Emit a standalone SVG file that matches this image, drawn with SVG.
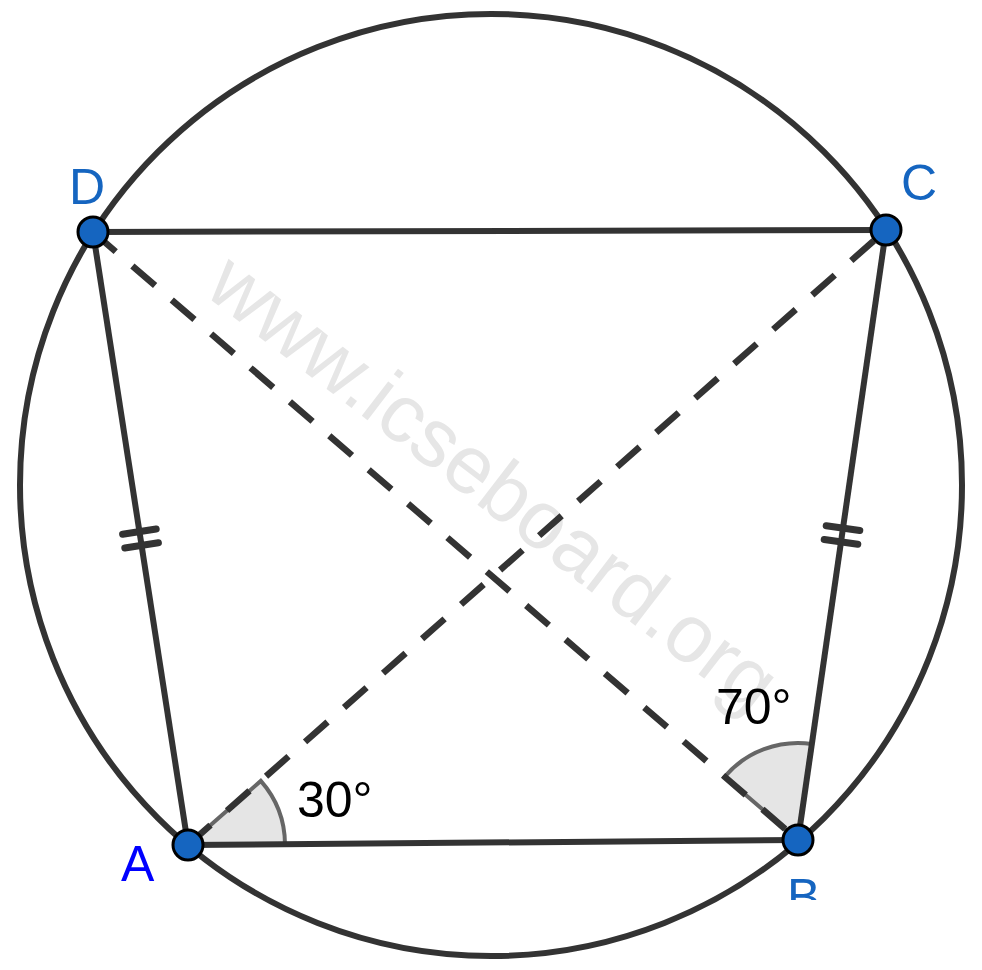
<svg xmlns="http://www.w3.org/2000/svg" width="982" height="970" viewBox="0 0 982 970">
<style>
.ln{stroke:#333333;stroke-width:6;fill:none;stroke-linecap:butt}
.dash{stroke:#333333;stroke-width:6.5;fill:none;stroke-dasharray:30 22}
.tick{stroke:#333333;stroke-width:7;stroke-linecap:round}
.sector{fill:#e5e5e5;stroke:#666666;stroke-width:4}
.pt{fill:#1565c0;stroke:#000000;stroke-width:3}
.lbl{font-family:"Liberation Sans",Arial,sans-serif;font-size:50px;fill:#1565c0}
.ang{font-family:"Liberation Sans",Arial,sans-serif;font-size:50px;fill:#000000}
</style>
<defs>
<clipPath id="clipB"><rect x="0" y="0" width="982" height="900"/></clipPath>
</defs>
<rect width="982" height="970" fill="#ffffff"/>
<text transform="translate(494,482) rotate(37.5)" x="0" y="28" text-anchor="middle" font-family="Liberation Sans, Arial, sans-serif" font-size="82" fill="#e6e6e6">www.icseboard.org</text>
<g id="angles">
<path class="sector" d="M188,845 L285,844.2 A97,97 0 0 0 260.8,780.9 Z"/>
<path class="sector" d="M798,840 L724.6,776.7 A97,97 0 0 1 811.9,744 Z"/>
</g>
<g id="connectors">
<circle class="ln" cx="491" cy="485" r="471"/>
<line class="ln" x1="93" y1="232" x2="886" y2="230"/>
<line class="ln" x1="188" y1="845" x2="798" y2="840"/>
<line class="ln" x1="188" y1="845" x2="93" y2="232"/>
<line class="ln" x1="798" y1="840" x2="886" y2="230"/>
<line class="dash" x1="93" y1="232" x2="798" y2="840"/>
<line class="dash" x1="188" y1="845" x2="886" y2="230"/>
<line class="tick" x1="122.6" y1="534.2" x2="156.2" y2="529"/>
<line class="tick" x1="124.8" y1="548" x2="158.4" y2="542.8"/>
<line class="tick" x1="826.2" y1="525.7" x2="859.8" y2="530.5"/>
<line class="tick" x1="824.2" y1="539.5" x2="857.8" y2="544.3"/>
</g>
<text class="ang" x="297" y="817">30°</text>
<text class="ang" x="716" y="724">70°</text>
<g id="A"><circle class="pt" cx="188" cy="845" r="15"/><text class="lbl" x="121" y="881" style="fill:#0000ff">A</text></g>
<g id="B"><circle class="pt" cx="798" cy="840" r="15"/><text class="lbl" x="787" y="914" clip-path="url(#clipB)">B</text></g>
<g id="C"><circle class="pt" cx="886" cy="230" r="15"/><text class="lbl" x="901" y="200">C</text></g>
<g id="D"><circle class="pt" cx="93" cy="232" r="15"/><text class="lbl" x="69" y="204">D</text></g>
</svg>
